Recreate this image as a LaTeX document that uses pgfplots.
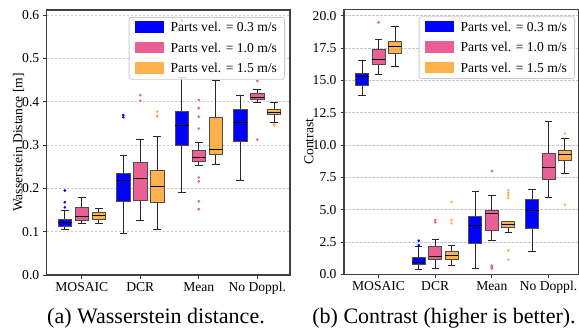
\documentclass[border=0pt]{standalone}
\usepackage{pgfplots}
\pgfplotsset{compat=1.18}
\usepgfplotslibrary{statistics}
\usepackage{fontspec}
\setmainfont{Liberation Serif}
\definecolor{cB}{RGB}{0,0,255}
\definecolor{cP}{HTML}{EA5F94}
\definecolor{cO}{HTML}{FFB14E}
\newcommand\tk{\fontsize{13.6bp}{16bp}\selectfont}
\newcommand\capf{\fontsize{22bp}{26bp}\selectfont}
% box with outliers
\newcommand{\bx}[8]{%
 \addplot[forget plot, color=#1, boxplot prepared={draw direction=y, draw position=#2, lower whisker=#3, lower quartile=#4, median=#5, upper quartile=#6, upper whisker=#7, box extend=0.23, whisker extend=0.13,
 every box/.style={draw=black!70, line width=0.9bp, fill=#1},
 every median/.style={draw=black, line width=1bp},
 every whisker/.style={draw=black!85, line width=0.9bp}},
 mark=*, mark size=1.15bp, mark options={draw=none, fill=#1}]
 table[row sep=\\, y index=0] {v\\ #8};}
% box without outliers
\newcommand{\bxn}[7]{%
 \addplot[forget plot, color=#1, boxplot prepared={draw direction=y, draw position=#2, lower whisker=#3, lower quartile=#4, median=#5, upper quartile=#6, upper whisker=#7, box extend=0.23, whisker extend=0.13,
 every box/.style={draw=black!70, line width=0.9bp, fill=#1},
 every median/.style={draw=black, line width=1bp},
 every whisker/.style={draw=black!85, line width=0.9bp}},
 mark=*, mark size=1.15bp, mark options={draw=none, fill=#1}]
 coordinates {};}
\newcommand{\legimg}[1]{\addlegendimage{legend image code/.code={\fill[#1, sharp corners, fill opacity=1] (0bp,-4.5bp) rectangle (28bp,6.2bp);}}}
\pgfplotsset{
 myax/.style={
  scale only axis, anchor=south west,
  ymin=0,
  xtick={0,1,2,3}, xticklabels={MOSAIC,DCR,Mean,No Doppl.},
  tick align=outside, xtick pos=bottom, ytick pos=left,
  major tick length=3.5bp,
  tick style={black!80, line width=0.9bp},
  axis line style={black!75, line width=1.1bp},
  ymajorgrids,
  grid style={dash pattern=on 2.5bp off 1.5bp, black!22, line width=0.6bp},
  tick label style={font=\tk},
  label style={font=\tk},
  /pgf/number format/assume math mode=true,
  yticklabel style={/pgf/number format/fixed, /pgf/number format/fixed zerofill, /pgf/number format/precision=1, anchor=east, inner sep=0bp, xshift=-3.8bp},
  xticklabel style={anchor=base, inner sep=0bp, yshift=-12.5bp},
  legend cell align=left,
  legend style={at={(1,1)}, anchor=north east, font=\tk, draw=black!20, fill=white, fill opacity=0.8, text opacity=1, rounded corners=2.5bp, inner xsep=5.7bp, inner ysep=3bp, row sep=5.6bp, column sep=5bp, line width=0.8bp},
 }
}
\begin{document}
\begin{tikzpicture}
\useasboundingbox (0,0) rectangle (579bp,329bp);
% ---------------- (a) Wasserstein distance
\begin{axis}[myax, at={(46.7bp,54bp)}, width=243.3bp, height=265bp,
  xmin=-0.6, xmax=3.56, ymax=0.6115, ytick={0,0.1,...,0.6},
  ylabel={Wasserstein Distance [m]},
  ylabel style={at={(axis description cs:-0.0995,0.5)}, anchor=base, inner sep=0bp},
  legend style={xshift=-5bp, yshift=-7bp}]
\legimg{cB}\addlegendentry{Parts vel. = 0.3 m/s}
\legimg{cP}\addlegendentry{Parts vel. = 1.0 m/s}
\legimg{cO}\addlegendentry{Parts vel. = 1.5 m/s}
% MOSAIC
\bx{cB}{-0.29}{0.104}{0.112}{0.121}{0.128}{0.148}{0.195\\ 0.168\\ 0.156\\}
\bxn{cP}{0}{0.118}{0.125}{0.135}{0.155}{0.178}
\bxn{cO}{0.29}{0.118}{0.128}{0.137}{0.145}{0.154}
% DCR
\bx{cB}{0.71}{0.096}{0.170}{0.217}{0.235}{0.277}{0.369\\ 0.364\\}
\bx{cP}{1}{0.125}{0.171}{0.223}{0.259}{0.312}{0.415\\ 0.402\\}
\bx{cO}{1.29}{0.105}{0.168}{0.205}{0.242}{0.320}{0.377\\ 0.368\\ 0.365\\}
% Mean
\bx{cB}{1.71}{0.190}{0.298}{0.345}{0.378}{0.455}{0.587\\}
\bx{cP}{2}{0.252}{0.262}{0.272}{0.287}{0.305}{0.404\\ 0.385\\ 0.365\\ 0.338\\ 0.225\\ 0.216\\ 0.170\\ 0.152\\}
\bxn{cO}{2.29}{0.255}{0.278}{0.290}{0.364}{0.448}
% No Doppl.
\bxn{cB}{2.71}{0.219}{0.308}{0.353}{0.382}{0.414}
\bx{cP}{3}{0.399}{0.404}{0.410}{0.418}{0.428}{0.448\\ 0.312\\}
\bx{cO}{3.29}{0.352}{0.371}{0.376}{0.383}{0.398}{0.345\\ 0.348\\}
\end{axis}
% ---------------- (b) Contrast
\begin{axis}[myax, at={(344bp,54.7bp)}, width=234.5bp, height=265bp,
  xmin=-0.61, xmax=3.53, ymax=20.5, ytick={0,2.5,...,20},
  ylabel={Contrast},
  ylabel style={at={(axis description cs:-0.131,0.5)}, anchor=base, inner sep=0bp},
  legend style={xshift=-3.5bp, yshift=-7bp}]
\legimg{cB}\addlegendentry{Parts vel. = 0.3 m/s}
\legimg{cP}\addlegendentry{Parts vel. = 1.0 m/s}
\legimg{cO}\addlegendentry{Parts vel. = 1.5 m/s}
% MOSAIC
\bxn{cB}{-0.29}{13.81}{14.64}{15.31}{15.54}{16.52}
\bx{cP}{0}{15.49}{16.24}{16.65}{17.40}{18.17}{19.48\\}
\bxn{cO}{0.29}{16.06}{17.09}{17.60}{18.02}{19.15}
% DCR
\bx{cB}{0.71}{0.34}{0.77}{0.93}{1.31}{2.14}{2.60\\ 2.27\\}
\bx{cP}{1}{0.49}{1.16}{1.37}{2.14}{2.71}{4.20\\ 4.02\\}
\bx{cO}{1.29}{0.67}{1.13}{1.44}{1.75}{2.24}{5.59\\ 4.20\\ 3.94\\}
% Mean
\bxn{cB}{1.71}{0.49}{2.35}{3.81}{4.46}{6.39}
\bx{cP}{2}{2.58}{3.38}{4.69}{4.92}{6.08}{7.99\\ 0.67\\ 0.60\\ 0.52\\ 0.44\\}
\bx{cO}{2.29}{3.25}{3.63}{3.89}{4.07}{4.10}{6.52\\ 6.30\\ 6.10\\ 5.90\\ 1.83\\ 1.13\\}
% No Doppl.
\bxn{cB}{2.71}{1.78}{3.56}{4.92}{5.80}{6.60}
\bxn{cP}{3}{5.93}{7.37}{8.27}{9.36}{11.80}
\bx{cO}{3.29}{7.84}{8.81}{9.30}{9.56}{10.54}{10.88\\ 5.39\\}
\end{axis}
\node[anchor=base, font=\capf, inner sep=0bp] at (156bp,5.5bp) {(a) Wasserstein distance.};
\node[anchor=base, font=\capf, inner sep=0bp] at (444bp,5.5bp) {(b) Contrast (higher is better).};
\end{tikzpicture}
\end{document}
